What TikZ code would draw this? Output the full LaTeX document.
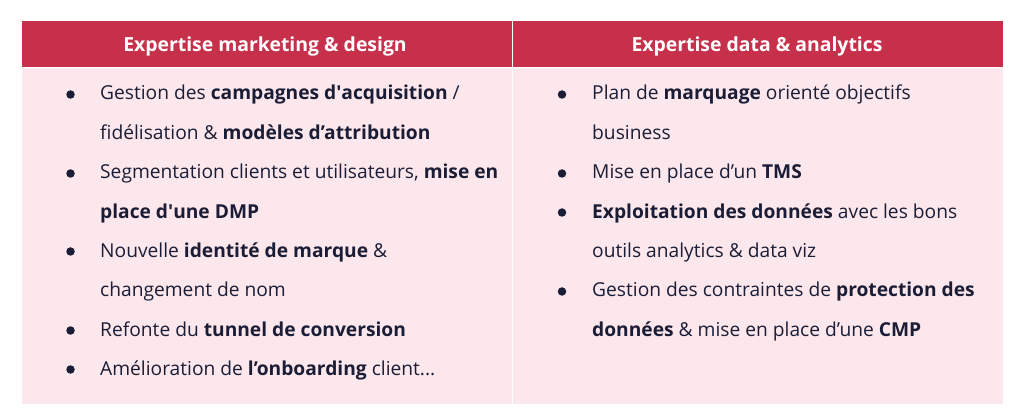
\documentclass[tikz,border=0pt]{standalone}
\usepackage{fontspec}
\setmainfont{Open Sans}
\definecolor{hdr}{HTML}{C7304A}
\definecolor{body}{HTML}{FCE8EC}
\definecolor{ink}{HTML}{1B1D36}
\begin{document}
\begin{tikzpicture}[x=1pt,y=-1pt,
  line/.style={anchor=base west,inner sep=0pt,text=ink,font=\fontsize{19.2}{22}\selectfont},
  head/.style={anchor=base,inner sep=0pt,text=white,font=\fontsize{19.4}{22}\selectfont\bfseries},
  dot/.style={circle,fill=ink,inner sep=0pt,minimum size=8.5pt}]
\useasboundingbox (0,0) rectangle (1024,419);
% cells
\fill[hdr] (22,21) rectangle (512,67);
\fill[hdr] (513,21) rectangle (1003,67);
\fill[body] (22,68) rectangle (512,404);
\fill[body] (513,68) rectangle (1003,404);
% headers
\node[head] (h1) at (265,51.5) {Expertise marketing \& design};
\node[head] (h2) at (757,51.5) {Expertise data \& analytics};
% left column
\node[dot] (b1) at (70.5,94.5) {};
\node[line] (l1) at (100,100) {Gestion des \textbf{campagnes d\textquotesingle acquisition} /};
\node[line] (l2) at (100,139.5) {fidélisation \& \textbf{modèles d’attribution}};
\node[dot] (b2) at (70.5,173.5) {};
\node[line] (l3) at (100,179) {Segmentation clients et utilisateurs, \textbf{mise en}};
\node[line] (l4) at (100,218.5) {\textbf{place d\textquotesingle une DMP}};
\node[dot] (b3) at (70.5,251.5) {};
\node[line] (l5) at (100,257.5) {Nouvelle \textbf{identité de marque} \&};
\node[line] (l6) at (100,297) {changement de nom};
\node[dot] (b4) at (70.5,330.5) {};
\node[line] (l7) at (100,336) {Refonte du \textbf{tunnel de conversion}};
\node[dot] (b5) at (70.5,369.5) {};
\node[line] (l8) at (100,375) {Amélioration de \textbf{l’onboarding} client...};
% right column
\node[dot] (r1) at (562,94.5) {};
\node[line] (m1) at (592,100) {Plan de \textbf{marquage} orienté objectifs};
\node[line] (m2) at (592,139.5) {business};
\node[dot] (r2) at (562,173.5) {};
\node[line] (m3) at (592,179) {Mise en place d’un \textbf{TMS}};
\node[dot] (r3) at (562,212.5) {};
\node[line] (m4) at (592,218.5) {\textbf{Exploitation des données} avec les bons};
\node[line] (m5) at (592,257.5) {outils analytics \& data viz};
\node[dot] (r4) at (562,291.5) {};
\node[line] (m6) at (592,297) {Gestion des contraintes de \textbf{protection des}};
\node[line] (m7) at (592,336) {\textbf{données} \& mise en place d’une \textbf{CMP}};
\end{tikzpicture}
\end{document}
